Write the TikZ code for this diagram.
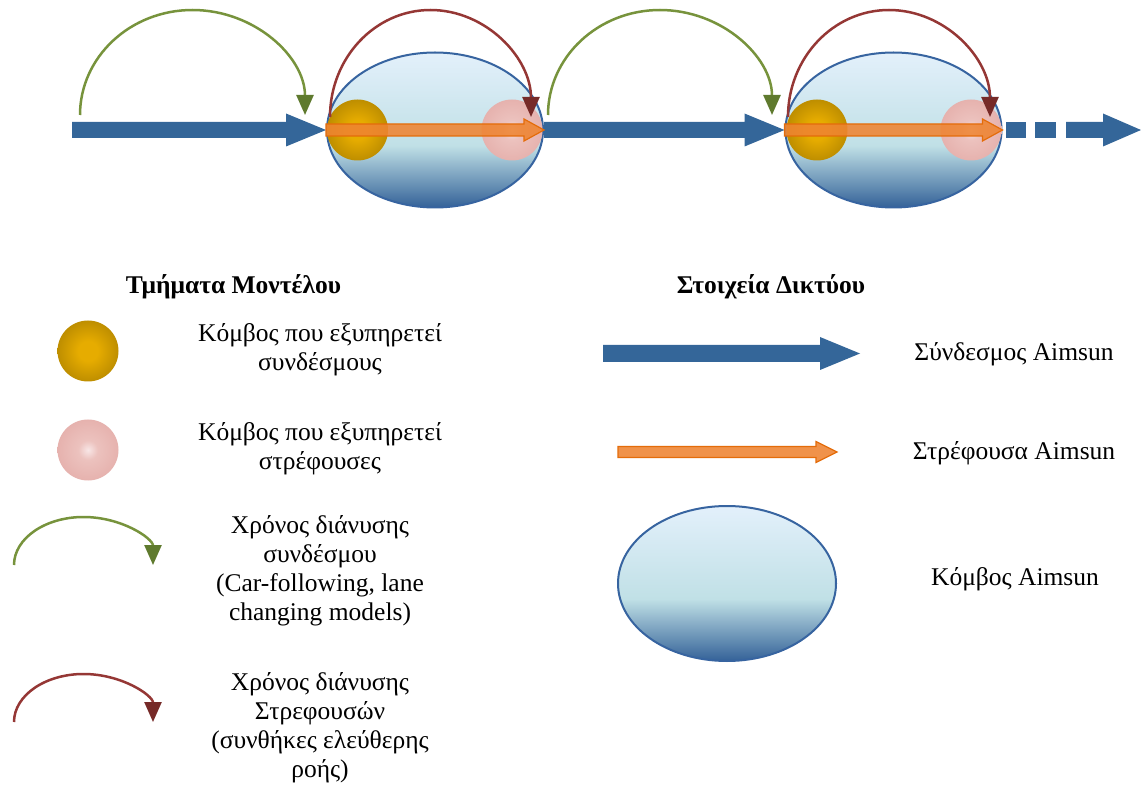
\documentclass[tikz,border=0pt]{standalone}
\usepackage{fontspec}
\setmainfont{Liberation Serif}
\usetikzlibrary{arrows.meta,shapes.geometric}

\definecolor{linkblue}{RGB}{52,102,153}
\definecolor{nodeline}{RGB}{55,100,160}
\definecolor{ndark}{RGB}{52,98,152}
\definecolor{nmid}{RGB}{192,224,230}
\definecolor{nlight}{RGB}{227,240,251}
\definecolor{linkgreen}{RGB}{119,147,60}
\definecolor{greenhead}{RGB}{95,122,46}
\definecolor{turnred}{RGB}{149,55,53}
\definecolor{redhead}{RGB}{118,42,40}
\definecolor{goldin}{RGB}{230,172,0}
\definecolor{goldout}{RGB}{190,142,0}
\definecolor{pinkin}{RGB}{248,230,230}
\definecolor{pinkmid}{RGB}{236,194,190}
\definecolor{pinkout}{RGB}{230,178,174}
\definecolor{turnfill}{RGB}{238,132,50}
\definecolor{turnline}{RGB}{228,108,10}

\pgfdeclareverticalshading{aimsunshade}{100bp}{color(0bp)=(ndark); color(25bp)=(ndark); color(45bp)=(nmid); color(75bp)=(nlight); color(100bp)=(nlight)}
\pgfdeclareradialshading{goldshade}{\pgfpoint{0bp}{0bp}}{color(0bp)=(goldin); color(8bp)=(goldin); color(25bp)=(goldout); color(50bp)=(goldout)}
\pgfdeclareradialshading{pinkshade}{\pgfpoint{0bp}{0bp}}{color(0bp)=(pinkin); color(8bp)=(pinkmid); color(25bp)=(pinkout); color(50bp)=(pinkout)}

% horizontal block arrow: style, tail, tip, half shaft, head length, half head
\newcommand\blockarrow[6]{%
  \path[#1] ([yshift=-#4pt]#2) -- ([shift={(-#5pt,-#4pt)}]#3) -- ([shift={(-#5pt,-#6pt)}]#3)
    -- (#3) -- ([shift={(-#5pt,#6pt)}]#3) -- ([shift={(-#5pt,#4pt)}]#3) -- ([yshift=#4pt]#2) -- cycle;}

\tikzset{
  aimsun/.style={ellipse, draw=nodeline, line width=2pt, shade, shading=aimsunshade,
    minimum width=216pt, minimum height=155pt, inner sep=0pt},
  linknode/.style={circle, shade, shading=goldshade, minimum size=61pt, inner sep=0pt},
  turnnode/.style={circle, shade, shading=pinkshade, minimum size=61pt, inner sep=0pt},
  linkarrow/.style={fill=linkblue},
  turnarrow/.style={fill=turnfill, draw=turnline, line width=1.2pt, fill opacity=.88},
  linktime/.style={draw=linkgreen, line width=2.5pt, -{Triangle[length=20pt,width=17pt,color=greenhead]}},
  turntime/.style={draw=turnred, line width=2.5pt, -{Triangle[length=20pt,width=17pt,color=redhead]}},
  % the node is placed at the baseline of its first line
  legendtext/.style={font=\fontsize{25.5}{29}\selectfont, align=center, anchor=north,
    yshift=20.3pt, inner sep=0pt, execute at begin node=\strut},
  heading/.style={font=\fontsize{25.5}{29}\selectfont\bfseries, anchor=base, inner sep=0pt}
}

\begin{document}
\begin{tikzpicture}[x=1pt, y=-1pt]
\useasboundingbox[fill=white] (0,0) rectangle (1141,791);

% ---- network strip ----
\node[aimsun] (e1) at (435,130) {};
\node[aimsun] (e2) at (893.5,130) {};
\node[linknode] (g1) at (357.5,130) {};
\node[turnnode] (p1) at (512,130) {};
\node[linknode] (g2) at (817,130) {};
\node[turnnode] (p2) at (971,130) {};

\coordinate (src) at (72,130);
\coordinate (tail3) at (1066,130);
\coordinate (sink) at (1141,130);
\blockarrow{linkarrow}{src}{e1.west}{8}{40}{16.5}
\blockarrow{linkarrow}{e1.east}{e2.west}{8}{40}{16.5}
\fill[linkarrow] (1006,122) rectangle (1026,138);
\fill[linkarrow] (1035,122) rectangle (1056,138);
\blockarrow{linkarrow}{tail3}{sink}{8}{38}{16.5}

\blockarrow{turnarrow}{e1.west}{e1.east}{6}{20}{11}
\blockarrow{turnarrow}{e2.west}{e2.east}{6}{20}{11}

\coordinate (ga1) at (80,115);
\coordinate (ra1) at (330,117);
\coordinate (ga2) at (548,115);
\coordinate (ra2) at (788,117);
\draw[linktime] (ga1) arc[start angle=180, end angle=0, x radius=112.5pt, y radius=105pt];
\draw[turntime] (ra1) arc[start angle=180, end angle=0, x radius=100.5pt, y radius=107pt];
\draw[linktime] (ga2) arc[start angle=180, end angle=0, x radius=112pt, y radius=105pt];
\draw[turntime] (ra2) arc[start angle=180, end angle=0, x radius=101pt, y radius=107pt];

% ---- legend: model parts ----
\node[heading] (hmodel) at (233.5,294) {Τμήματα Μοντέλου};
\node[linknode] (lgold) at (88,351) {};
\node[legendtext] (tgold) at (320,344) {Κόμβος που εξυπηρετεί\\συνδέσμους};
\node[turnnode] (lpink) at (88,450) {};
\node[legendtext] (tpink) at (320,443) {Κόμβος που εξυπηρετεί\\στρέφουσες};
\coordinate (lga) at (14,565);
\draw[linktime] (lga) arc[start angle=180, end angle=0, x radius=69.5pt, y radius=48pt];
\node[legendtext] (tgreen) at (320,536) {Χρόνος διάνυσης\\συνδέσμου\\(Car-following, lane\\changing models)};
\coordinate (lra) at (14,722);
\draw[turntime] (lra) arc[start angle=180, end angle=0, x radius=69.5pt, y radius=48pt];
\node[legendtext] (tred) at (320,693) {Χρόνος διάνυσης\\Στρεφουσών\\(συνθήκες ελεύθερης\\ροής)};

% ---- legend: network elements ----
\node[heading] (hnet) at (771,294) {Στοιχεία Δικτύου};
\coordinate (lb1) at (603,353.5);
\coordinate (lb2) at (860,353.5);
\blockarrow{linkarrow}{lb1}{lb2}{8.5}{40}{16.5}
\node[legendtext] (tlink) at (1014,360) {Σύνδεσμος Aimsun};
\coordinate (lo1) at (618,452);
\coordinate (lo2) at (837,452);
\blockarrow{turnarrow}{lo1}{lo2}{5.5}{21}{10.5}
\node[legendtext] (tturn) at (1014,459) {Στρέφουσα Aimsun};
\node[aimsun, minimum width=218pt] (lnode) at (727,583.5) {};
\node[legendtext] (tnode) at (1015,585) {Κόμβος Aimsun};
\end{tikzpicture}
\end{document}
